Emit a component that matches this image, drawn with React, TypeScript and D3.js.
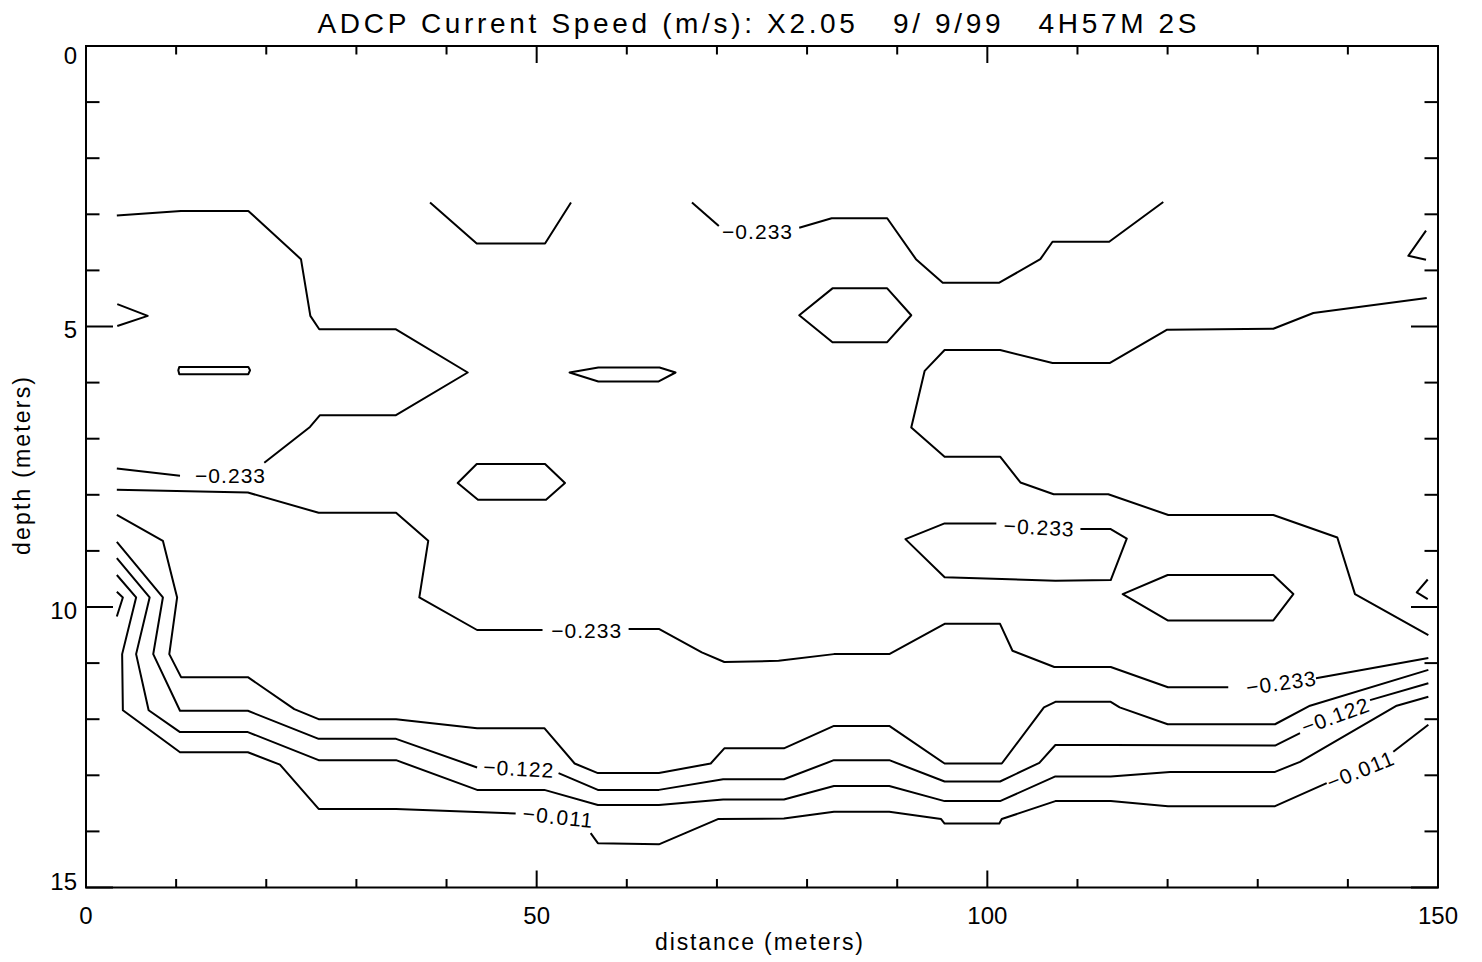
import React from 'react';
import * as d3 from 'd3';

// ADCP contour section: distance (m) vs depth (m)
const W = 1482;
const H = 962;
const plot = { left: 86, right: 1438, top: 46, bottom: 887.5 };

const titleText = 'ADCP Current Speed (m/s): X2.05   9/ 9/99   4H57M 2S';
const xLabel = 'distance (meters)';
const yLabel = 'depth (meters)';
const xTickLabels = [0, 50, 100, 150];
const yTickLabels = [0, 5, 10, 15];

type Pt = [number, number];

// open contour pieces [distance, depth]; pieces are split where a label sits
const openLines: Pt[][] = [
  // upper-left -0.233
  [[3.42, 3.02], [10.54, 2.94], [18.01, 2.94], [23.85, 3.8], [24.89, 4.81], [25.88, 5.05], [34.39, 5.05], [42.35, 5.82], [34.39, 6.58], [25.96, 6.58], [24.85, 6.79], [19.78, 7.43]],
  [[10.43, 7.66], [3.42, 7.53]],
  // long -0.233
  [[3.42, 7.91], [17.96, 7.96], [25.81, 8.32], [34.4, 8.32], [37.97, 8.82], [36.98, 9.83], [43.39, 10.41], [50.65, 10.41]],
  [[60.2, 10.39], [63.56, 10.39], [68.32, 10.81], [70.82, 10.98], [76.84, 10.96], [82.98, 10.84], [89.12, 10.84], [95.26, 10.3], [101.41, 10.3], [102.79, 10.78], [107.43, 11.07], [113.69, 11.07], [120.04, 11.43], [126.73, 11.43]],
  [[136.46, 11.27], [148.93, 10.91]],
  // top middle
  [[38.17, 2.79], [43.35, 3.52], [50.93, 3.52], [53.81, 2.79]],
  [[67.23, 2.79], [70.21, 3.21]],
  [[79.13, 3.24], [82.73, 3.07], [88.89, 3.07], [92.08, 3.8], [95.05, 4.22], [101.33, 4.22], [105.88, 3.8], [107.23, 3.49], [113.52, 3.49], [119.52, 2.78]],
  // right side
  [[148.75, 4.49], [136.17, 4.76], [131.73, 5.04], [119.9, 5.06], [113.61, 5.65], [107.23, 5.65], [101.42, 5.42], [95.26, 5.42], [93.05, 5.79], [91.56, 6.8], [95.26, 7.32], [101.42, 7.32], [103.67, 7.78], [107.36, 7.99], [113.42, 7.99], [120.08, 8.36], [131.73, 8.36], [138.83, 8.76], [140.79, 9.77], [148.93, 10.5]],
  [[110.33, 8.61], [113.69, 8.61], [115.47, 8.78], [113.69, 9.52], [107.55, 9.53], [95.26, 9.47], [90.91, 8.79], [95.26, 8.51], [101.0, 8.51]],
  [[148.67, 3.29], [146.71, 3.74], [148.67, 3.81]],
  [[148.86, 9.51], [147.64, 9.74], [148.86, 9.86]],
  [[3.47, 4.6], [6.85, 4.81], [3.47, 4.99]],
  // bottom group
  [[3.42, 8.36], [8.53, 8.82], [10.11, 9.83], [9.24, 10.84], [10.55, 11.25], [17.96, 11.25], [23.11, 11.82], [25.81, 12.0], [34.4, 12.0], [43.39, 12.16], [50.85, 12.16], [54.21, 12.79], [56.79, 12.96], [63.56, 12.96], [69.31, 12.79], [70.82, 12.52], [77.43, 12.52], [82.98, 12.12], [89.12, 12.12], [95.26, 12.79], [101.6, 12.79], [106.28, 11.79], [107.55, 11.69], [113.69, 11.69], [114.68, 11.79], [120.01, 12.09], [131.92, 12.09], [135.8, 11.76], [148.93, 11.12]],
  [[3.42, 8.84], [8.53, 9.83], [7.46, 10.84], [10.43, 11.85], [17.96, 11.85], [25.81, 12.35], [34.4, 12.35], [43.39, 12.86]],
  [[52.43, 12.96], [56.79, 13.26], [63.56, 13.26], [70.69, 13.07], [77.43, 13.07], [82.98, 12.73], [89.12, 12.73], [95.26, 13.11], [101.41, 13.11], [105.77, 12.78], [107.55, 12.46], [113.69, 12.46], [131.92, 12.47], [134.69, 12.25]],
  [[142.46, 11.66], [148.93, 11.36]],
  [[3.42, 9.13], [7.06, 9.83], [5.56, 10.84], [6.95, 11.84], [10.43, 12.23], [17.96, 12.23], [25.81, 12.73], [34.4, 12.73], [43.39, 13.26], [50.85, 13.26], [56.79, 13.53], [63.56, 13.53], [70.69, 13.43], [77.43, 13.43], [82.98, 13.19], [89.12, 13.19], [95.26, 13.46], [101.41, 13.46], [107.55, 13.02], [113.69, 13.02], [120.27, 12.94], [131.92, 12.94], [134.69, 12.76], [145.42, 11.76], [148.93, 11.6]],
  [[3.42, 9.43], [5.56, 9.83], [4.01, 10.84], [4.09, 11.84], [10.43, 12.59], [17.96, 12.59], [21.52, 12.81], [25.81, 13.6], [34.4, 13.6], [47.67, 13.68]],
  [[55.99, 14.03], [56.79, 14.21], [63.56, 14.23], [70.11, 13.78], [77.43, 13.77], [82.98, 13.65], [89.12, 13.65], [94.87, 13.78], [95.26, 13.86], [101.33, 13.86], [101.6, 13.78], [107.55, 13.46], [113.69, 13.46], [120.04, 13.55], [131.92, 13.55], [137.65, 13.14]],
  [[145.04, 12.58], [148.93, 12.1]],
  [[3.42, 9.73], [4.09, 9.83], [3.42, 10.17]],
];

// closed contours
const closedLoops: Pt[][] = [
  [[79.13, 4.8], [82.82, 4.32], [88.89, 4.32], [91.56, 4.8], [88.89, 5.28], [82.82, 5.28]],
  [[53.65, 5.82], [56.84, 5.73], [63.63, 5.73], [65.41, 5.82], [63.54, 5.98], [56.84, 5.98]],
  [[115.02, 9.77], [120.01, 9.43], [131.73, 9.43], [133.95, 9.77], [131.73, 10.24], [120.01, 10.24]],
  [[10.35, 5.72], [18.01, 5.72], [18.2, 5.78], [18.01, 5.85], [10.35, 5.85], [10.24, 5.78]],
  [[41.24, 7.79], [43.35, 7.45], [50.93, 7.45], [53.14, 7.79], [51.04, 8.09], [43.49, 8.09]],
];

const labelText = ['−0.233', '−0.233', '−0.233', '−0.233', '−0.233', '−0.122', '−0.122', '−0.011', '−0.011'];
const labelPos: Pt[] = [[15.98, 7.66], [55.5, 10.41], [74.45, 3.31], [105.7, 8.58], [132.58, 11.35], [47.97, 12.88], [138.57, 11.94], [52.33, 13.74], [141.35, 12.91]];
const labelAngle = [0, 0, 0, 3, -8, 3, -20, 6, -22];

const font = '"Liberation Sans", "DejaVu Sans", sans-serif';

export default function App() {
  const x = d3.scaleLinear().domain([0, 150]).range([plot.left, plot.right]);
  const y = d3.scaleLinear().domain([0, 15]).range([plot.top, plot.bottom]);

  const line = d3.line<Pt>().x((d) => x(d[0])).y((d) => y(d[1]));
  const loop = d3.line<Pt>().x((d) => x(d[0])).y((d) => y(d[1])).curve(d3.curveLinearClosed);

  const xTicks = d3.range(0, 151, 10);
  const yTicks = d3.range(0, 16, 1);
  const xMajLen = 17, xMinLen = 8.5, yMajLen = 27, yMinLen = 13.5;

  // end labels on the depth axis sit a bit inside the range, like the original
  const yLabelShift = (t: number) => (t === 0 ? 9.5 : t === 15 ? -6 : 3);

  return (
    <svg width={W} height={H} style={{ position: 'absolute', left: 0, top: 0, background: '#fff' }}>
      <rect x={0} y={0} width={W} height={H} fill="#fff" />
      <text x={757} y={33} fontFamily={font} fontSize={28} textAnchor="middle" textLength={879} lengthAdjust="spacing" style={{ whiteSpace: 'pre' }}>
        {titleText}
      </text>

      <g stroke="#000" strokeWidth={2} fill="none">
        <rect x={plot.left} y={plot.top} width={plot.right - plot.left} height={plot.bottom - plot.top} />
        {xTicks.map((t) => {
          const len = t % 50 === 0 ? xMajLen : xMinLen;
          return (
            <g key={'xt' + t}>
              <line x1={x(t)} x2={x(t)} y1={plot.bottom} y2={plot.bottom - len} />
              <line x1={x(t)} x2={x(t)} y1={plot.top} y2={plot.top + len} />
            </g>
          );
        })}
        {yTicks.map((t) => {
          const len = t % 5 === 0 ? yMajLen : yMinLen;
          return (
            <g key={'yt' + t}>
              <line x1={plot.left} x2={plot.left + len} y1={y(t)} y2={y(t)} />
              <line x1={plot.right} x2={plot.right - len} y1={y(t)} y2={y(t)} />
            </g>
          );
        })}
      </g>

      <g fontFamily={font} fontSize={24} fill="#000">
        {xTickLabels.map((t) => (
          <text key={'xl' + t} x={x(t)} y={924} textAnchor="middle">{t}</text>
        ))}
        {yTickLabels.map((t) => (
          <text key={'yl' + t} x={77} y={y(t) + yLabelShift(t)} textAnchor="end" dominantBaseline="central">{t}</text>
        ))}
        <text x={759} y={950} textAnchor="middle" fontSize={23} textLength={208} lengthAdjust="spacing">{xLabel}</text>
        <text transform="translate(30,466) rotate(-90)" textAnchor="middle" fontSize={23} textLength={178} lengthAdjust="spacing">{yLabel}</text>
      </g>

      <g stroke="#000" strokeWidth={2} fill="none" strokeLinejoin="round">
        {openLines.map((pts, i) => (
          <path key={'o' + i} d={line(pts) || ''} />
        ))}
        {closedLoops.map((pts, i) => (
          <path key={'c' + i} d={loop(pts) || ''} />
        ))}
      </g>

      <g fontFamily={font} fontSize={21} fill="#000">
        {labelText.map((t, i) => (
          <text
            key={'lb' + i}
            x={x(labelPos[i][0])}
            y={y(labelPos[i][1])}
            textAnchor="middle"
            dominantBaseline="central"
            textLength={70}
            lengthAdjust="spacing"
            transform={`rotate(${labelAngle[i]},${x(labelPos[i][0])},${y(labelPos[i][1])})`}
          >
            {t}
          </text>
        ))}
      </g>
    </svg>
  );
}
